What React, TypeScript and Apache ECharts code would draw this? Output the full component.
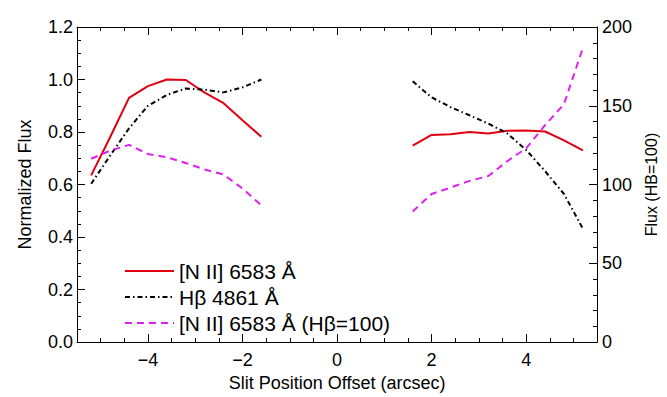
import React, { useEffect, useRef } from "react";
import * as echarts from "echarts";

// Slit positions (arcsec)
const xLeft = [-5.2, -4.8, -4.4, -4.0, -3.6, -3.2, -2.8, -2.4, -2.0, -1.6];
const xRight = [1.6, 2.0, 2.4, 2.8, 3.2, 3.6, 4.0, 4.4, 4.8, 5.2];

// [N II] 6583 normalized flux
const niiLeft = [0.635, 0.78, 0.93, 0.975, 1.0, 0.998, 0.95, 0.91, 0.845, 0.782];
const niiRight = [0.748, 0.789, 0.792, 0.8, 0.794, 0.805, 0.806, 0.802, 0.768, 0.73];

// Hbeta 4861 normalized flux
const hbLeft = [0.603, 0.71, 0.814, 0.9, 0.941, 0.966, 0.961, 0.951, 0.97, 1.0];
const hbRight = [0.993, 0.932, 0.895, 0.864, 0.832, 0.795, 0.732, 0.651, 0.564, 0.432];

// [N II] 6583 relative to Hbeta = 100
const ratioLeft = [116.4, 121.5, 125.2, 119.4, 117.3, 113.7, 109.6, 106.4, 97.5, 86.7];
const ratioRight = [82.9, 94.0, 98.1, 102.3, 105.4, 114.8, 123.0, 137.7, 151.0, 186.7];

const xMajorTicks = [-4, -2, 0, 2, 4];
const xMinorTicks = [-5, -4.5, -3.5, -3, -2.5, -1.5, -1, -0.5, 0.5, 1, 1.5, 2.5, 3, 3.5, 4.5, 5];

const seriesNames = ["[N II] 6583 Å", "Hβ 4861 Å", "[N II] 6583 Å (Hβ=100)"];

function joinSegments(left: number[], right: number[]) {
  return [
    ...xLeft.map((x, i) => [x, left[i]]),
    [0, null],
    ...xRight.map((x, i) => [x, right[i]]),
  ];
}

const FONT = "Liberation Sans";

export default function App() {
  const ref = useRef<HTMLDivElement>(null);
  useEffect(() => {
    document.body.style.margin = "0";
    const chart = echarts.init(ref.current!, null, { renderer: "svg" });
    const fmtX = (v: number) => (v < 0 ? "\u2212" + Math.abs(v) : String(v));
    const baseX = {
      type: "value",
      min: -5.5,
      max: 5.5,
      splitLine: { show: false },
    };
    const black = { color: "#000", width: 1 };
    chart.setOption({
      animation: false,
      textStyle: { fontFamily: FONT, color: "#000" },
      grid: { left: 77, right: 63, top: 27, bottom: 50 },
      legend: {
        orient: "vertical",
        left: 119,
        top: 255,
        itemWidth: 49,
        itemHeight: 14,
        itemGap: 4,
        data: seriesNames,
        itemStyle: { opacity: 0 },
        textStyle: { fontSize: 21, fontFamily: FONT, color: "#000", lineHeight: 22 },
      },
      xAxis: [
        {
          ...baseX,
          position: "bottom",
          name: "Slit Position Offset (arcsec)",
          nameLocation: "middle",
          nameGap: 30,
          nameTextStyle: { fontSize: 18, fontFamily: FONT, color: "#000" },
          axisLine: { show: true, onZero: false, lineStyle: black },
          axisTick: { show: true, inside: true, length: 8, customValues: xMajorTicks, lineStyle: black },
          axisLabel: { customValues: xMajorTicks, formatter: fmtX, fontSize: 18, color: "#000", margin: 9, fontFamily: FONT },
        },
        {
          ...baseX,
          position: "bottom",
          axisLine: { show: false, onZero: false },
          axisTick: { show: true, inside: true, length: 4, customValues: xMinorTicks, lineStyle: black },
          axisLabel: { show: false },
        },
        {
          ...baseX,
          position: "top",
          axisLine: { show: true, onZero: false, lineStyle: black },
          axisTick: { show: true, inside: true, length: 8, customValues: xMajorTicks, lineStyle: black },
          axisLabel: { show: false },
        },
        {
          ...baseX,
          position: "top",
          axisLine: { show: false, onZero: false },
          axisTick: { show: true, inside: true, length: 4, customValues: xMinorTicks, lineStyle: black },
          axisLabel: { show: false },
        },
      ],
      yAxis: [
        {
          type: "value",
          min: 0,
          max: 1.2,
          interval: 0.2,
          position: "left",
          name: "Normalized Flux",
          nameLocation: "middle",
          nameRotate: 90,
          nameGap: 43,
          nameTextStyle: { fontSize: 18, fontFamily: FONT, color: "#000" },
          splitLine: { show: false },
          axisLine: { show: true, onZero: false, lineStyle: black },
          axisTick: { show: true, inside: true, length: 8, lineStyle: black },
          minorTick: { show: true, splitNumber: 4, length: 4, lineStyle: black },
          axisLabel: { formatter: (v: number) => v.toFixed(1), fontSize: 18, color: "#000", margin: 4, fontFamily: FONT },
        },
        {
          type: "value",
          min: 0,
          max: 200,
          interval: 50,
          position: "right",
          name: "Flux (HB=100)",
          nameLocation: "middle",
          nameRotate: 90,
          nameGap: 40,
          nameTextStyle: { fontSize: 16, fontFamily: FONT, color: "#000" },
          splitLine: { show: false },
          axisLine: { show: true, onZero: false, lineStyle: black },
          axisTick: { show: true, inside: true, length: 8, lineStyle: black },
          minorTick: { show: true, splitNumber: 5, length: 4, lineStyle: black },
          axisLabel: { fontSize: 18, color: "#000", margin: 5, fontFamily: FONT },
        },
      ],
      series: [
        {
          name: seriesNames[0],
          type: "line",
          xAxisIndex: 0,
          yAxisIndex: 0,
          symbol: "none",
          connectNulls: false,
          data: joinSegments(niiLeft, niiRight),
          lineStyle: { color: "#e00010", width: 2 },
          itemStyle: { color: "#e00010" },
        },
        {
          name: seriesNames[1],
          type: "line",
          xAxisIndex: 0,
          yAxisIndex: 0,
          symbol: "none",
          connectNulls: false,
          data: joinSegments(hbLeft, hbRight),
          lineStyle: { color: "#000", width: 2, type: [5, 3, 1.5, 3] },
          itemStyle: { color: "#000" },
        },
        {
          name: seriesNames[2],
          type: "line",
          xAxisIndex: 0,
          yAxisIndex: 1,
          symbol: "none",
          connectNulls: false,
          data: joinSegments(ratioLeft, ratioRight),
          lineStyle: { color: "#e020f0", width: 2, type: [7, 5] },
          itemStyle: { color: "#e020f0" },
        },
      ],
    });
    return () => chart.dispose();
  }, []);
  return <div ref={ref} style={{ width: 667, height: 397 }} />;
}
